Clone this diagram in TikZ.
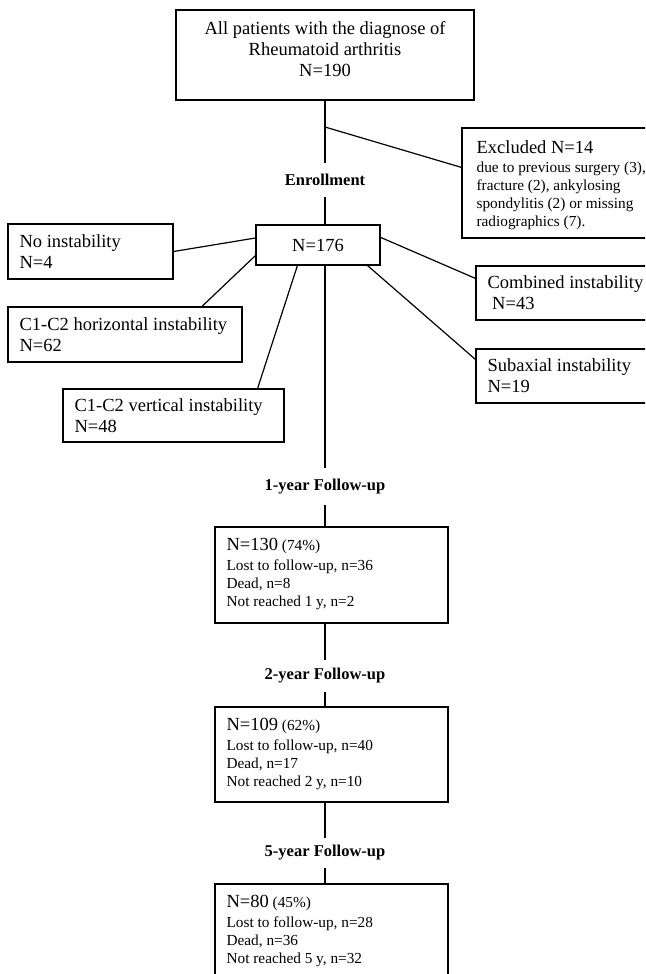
\documentclass[tikz,border=0pt]{standalone}
\usepackage{fontspec}
\setmainfont{Liberation Serif}
\usetikzlibrary{calc}
\newcommand\fbig{\fontsize{18.5}{21}\selectfont}
\newcommand\fsmall{\fontsize{15.3}{18}\selectfont}
\newcommand\flbl{\bfseries\fontsize{16.5}{20}\selectfont}
\tikzset{
  box/.style={draw, line width=1.2pt, rectangle, inner sep=0pt},
  btxt/.style={inner sep=0pt, align=left, anchor=west, font=\fbig},
  txt/.style={inner sep=0pt, align=left, anchor=north west, font=\fsmall},
  lbl/.style={inner sep=0pt, font=\flbl},
  conn/.style={line width=1.2pt}
}
\begin{document}
\begin{tikzpicture}[x=1pt,y=-1pt]
\useasboundingbox (0,0) rectangle (645,974);
\clip (0,0) rectangle (645,974);
% top box
\node[box, minimum width=298pt, minimum height=90pt] (top) at (325,55) {};
\node[inner sep=0pt, align=center, font=\fbig] (toptxt) at (325,49) {All patients with the diagnose of\\Rheumatoid arthritis\\N=190};
% excluded
\node[box, minimum width=200pt, minimum height=110pt] (excl) at (562,183) {};
\node[txt] (excltxt) at ([xshift=15pt,yshift=-13pt]excl.north west) {{\fbig Excluded N=14}\\[1pt]due to previous surgery (3),\\fracture (2), ankylosing\\spondylitis (2) or missing\\radiographics (7).};
% labels
\node[lbl, minimum height=34pt] (enr) at (325,180) {Enrollment};
\node[lbl, minimum height=37pt] (fu1) at (325,486.5) {1-year Follow-up};
\node[lbl, minimum height=32pt] (fu2) at (325,676) {2-year Follow-up};
\node[lbl, minimum height=30pt] (fu5) at (325,853) {5-year Follow-up};
% N=176
\node[draw, line width=1.2pt, minimum width=124pt, minimum height=40pt, inner sep=0pt, font=\fbig] (n176) at (318,245) {N=176};
% side boxes
\node[box, minimum width=165pt, minimum height=55pt] (noinst) at (90.5,251.5) {};
\node[btxt] (noinsttxt) at ([xshift=12pt]noinst.west) {No instability\\N=4};
\node[box, minimum width=234pt, minimum height=55pt] (horiz) at (125,334.5) {};
\node[btxt] (horiztxt) at ([xshift=12pt]horiz.west) {C1-C2 horizontal instability\\N=62};
\node[box, minimum width=221pt, minimum height=53pt] (vert) at (173.5,415.5) {};
\node[btxt] (verttxt) at ([xshift=12pt]vert.west) {C1-C2 vertical instability\\N=48};
\node[box, minimum width=184pt, minimum height=54pt] (comb) at (568,293) {};
\node[btxt] (combtxt) at ([xshift=12pt]comb.west) {Combined instability\\\ N=43};
\node[box, minimum width=184pt, minimum height=54pt] (sub) at (568,376) {};
\node[btxt] (subtxt) at ([xshift=12pt]sub.west) {Subaxial instability\\N=19};
% follow-up boxes
\node[box, minimum width=233pt, minimum height=96pt] (b1) at (331.5,575) {};
\node[txt] (b1txt) at ([xshift=12pt,yshift=-12pt]b1.north west) {{\fbig N=130} (74\%)\\[2pt]Lost to follow-up, n=36\\Dead, n=8\\Not reached 1 y, n=2};
\node[box, minimum width=233pt, minimum height=95pt] (b2) at (331.5,754.5) {};
\node[txt] (b2txt) at ([xshift=12pt,yshift=-12pt]b2.north west) {{\fbig N=109} (62\%)\\[2pt]Lost to follow-up, n=40\\Dead, n=17\\Not reached 2 y, n=10};
\node[box, minimum width=233pt, minimum height=110pt] (b3) at (331.5,939) {};
\node[txt] (b3txt) at ([xshift=12pt,yshift=-12pt]b3.north west) {{\fbig N=80} (45\%)\\[2pt]Lost to follow-up, n=28\\Dead, n=36\\Not reached 5 y, n=32};
% main line
\coordinate (j1) at (325,127);
\draw[conn] (top.south) -- (enr.north);
\draw[conn] (enr.south) -- (n176.north -| enr.south);
\draw[conn] (n176.south -| enr.south) -- (fu1.north);
\draw[conn] (fu1.south) -- (b1.north -| fu1.south);
\draw[conn] (b1.south -| fu1.south) -- (fu2.north);
\draw[conn] (fu2.south) -- (b2.north -| fu2.south);
\draw[conn] (b2.south -| fu2.south) -- (fu5.north);
\draw[conn] (fu5.south) -- (b3.north -| fu5.south);
% branches
\draw[conn] (j1) -- ([yshift=-40pt]excl.north west);
\draw[conn] (noinst.east) -- ([yshift=7pt]n176.west);
\draw[conn] ([xshift=77pt]horiz.north) -- ([yshift=10pt]n176.south west);
\draw[conn] ([xshift=-27pt]vert.north east) -- ([xshift=42pt]n176.south west);
\draw[conn] ([yshift=-13pt]n176.north east) -- ([yshift=-13pt]comb.north west);
\draw[conn] ([xshift=-13pt]n176.south east) -- ([yshift=-11pt]sub.north west);
\end{tikzpicture}
\end{document}
